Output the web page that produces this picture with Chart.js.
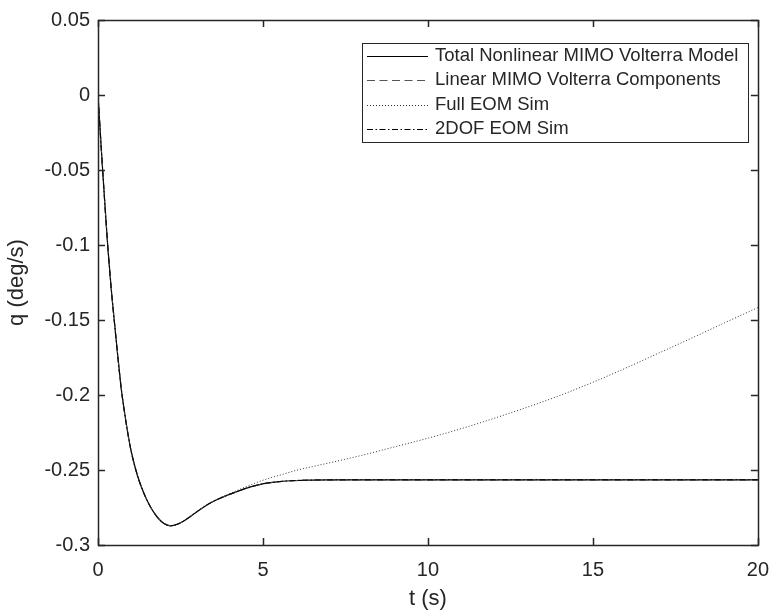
<!DOCTYPE html>
<html>
<head>
<meta charset="utf-8">
<script src="https://cdn.jsdelivr.net/npm/chart.js@4"></script>
<style>
  html, body { margin: 0; padding: 0; background: #fff; }
  #wrap { width: 782px; height: 614px; }
</style>
</head>
<body>
<div id="wrap"><canvas id="qChart"></canvas></div>
<script>
// Tempo (s) e respostas q (deg/s)
const tSeconds = [0, 0.1, 0.2, 0.3, 0.4, 0.5, 0.6, 0.7, 0.8, 0.9,
    1.0, 1.2, 1.4, 1.6, 1.8, 2.0, 2.2, 2.4, 2.6, 2.8,
    3.0, 3.3, 3.6, 3.9, 4.2, 4.5, 4.8, 5.1, 5.5, 6.0,
    6.5, 7, 8, 9, 10, 11, 12, 13, 14, 15, 16, 17, 18, 19, 20];

const qTotal = [0, -0.036, -0.070, -0.102, -0.129, -0.152, -0.174, -0.195, -0.211, -0.225,
    -0.237, -0.254, -0.266, -0.2750, -0.2815, -0.2857, -0.2872, -0.2862, -0.2840, -0.2810,
    -0.2778, -0.2733, -0.2698, -0.2670, -0.2645, -0.2621, -0.2602, -0.2588, -0.2577, -0.2570,
    -0.2567, -0.2566, -0.2566, -0.2566, -0.2566, -0.2566, -0.2566, -0.2566, -0.2566, -0.2566,
    -0.2566, -0.2566, -0.2566, -0.2566, -0.2566];

const qLinear = [0, -0.036, -0.070, -0.102, -0.129, -0.152, -0.174, -0.195, -0.211, -0.225,
    -0.237, -0.254, -0.266, -0.2750, -0.2815, -0.2857, -0.2872, -0.2862, -0.2840, -0.2810,
    -0.2778, -0.2733, -0.2698, -0.2671, -0.2646, -0.2622, -0.2603, -0.2589, -0.2578, -0.2571,
    -0.2568, -0.2567, -0.2567, -0.2567, -0.2567, -0.2567, -0.2567, -0.2567, -0.2567, -0.2567,
    -0.2567, -0.2567, -0.2567, -0.2567, -0.2567];

const qFullEom = [0, -0.036, -0.070, -0.102, -0.129, -0.152, -0.174, -0.195, -0.211, -0.225,
    -0.237, -0.254, -0.266, -0.2750, -0.2815, -0.2857, -0.2872, -0.2862, -0.2840, -0.2810,
    -0.2778, -0.2732, -0.2696, -0.2666, -0.2638, -0.2610, -0.2584, -0.2561, -0.2535, -0.2503,
    -0.2477, -0.2453, -0.2402, -0.2345, -0.2288, -0.2225, -0.2156, -0.2082, -0.2003, -0.1915,
    -0.1820, -0.1720, -0.1620, -0.1518, -0.1417];

const q2Dof = [0, -0.036, -0.070, -0.102, -0.129, -0.152, -0.174, -0.195, -0.211, -0.225,
    -0.237, -0.254, -0.266, -0.2750, -0.2815, -0.2857, -0.2872, -0.2862, -0.2840, -0.2810,
    -0.2778, -0.2733, -0.2698, -0.2670, -0.2645, -0.2621, -0.2602, -0.2588, -0.2577, -0.2570,
    -0.2567, -0.2566, -0.2565, -0.2565, -0.2565, -0.2565, -0.2565, -0.2565, -0.2565, -0.2565,
    -0.2565, -0.2565, -0.2565, -0.2565, -0.2565];

const seriesLabels = ['Total Nonlinear MIMO Volterra Model', 'Linear MIMO Volterra Components', 'Full EOM Sim', '2DOF EOM Sim'];
const xTicks = [0, 5, 10, 15, 20];
const yTicks = [0.05, 0, -0.05, -0.1, -0.15, -0.2, -0.25, -0.3];

const axisColor = '#262626';
const fontFamily = '"Liberation Sans", Arial, Helvetica, sans-serif';

function toPoints(values) {
    return tSeconds.map((t, i) => ({ x: t, y: values[i] }));
}

const lineStyles = [
    { color: '#000000', width: 1.2, dash: [] },
    { color: '#555555', width: 1.2, dash: [8, 4.5] },
    { color: '#333333', width: 1, dash: [1, 2] },
    { color: '#000000', width: 1, dash: [6, 2.5, 1.5, 2.5] }
];

// Caixa dos eixos com marcas para dentro (estilo MATLAB)
const boxPlugin = {
    id: 'matlabBox',
    afterDatasetsDraw(chart) {
        const { ctx, chartArea: a, scales } = chart;
        const len = 7;
        ctx.save();
        ctx.strokeStyle = axisColor;
        ctx.lineWidth = 1.5;
        ctx.beginPath();
        xTicks.forEach(v => {
            const px = Math.round(scales.x.getPixelForValue(v)) + 0.5;
            ctx.moveTo(px, a.bottom); ctx.lineTo(px, a.bottom - len);
            ctx.moveTo(px, a.top); ctx.lineTo(px, a.top + len);
        });
        yTicks.forEach(v => {
            const py = Math.round(scales.y.getPixelForValue(v)) + 0.5;
            ctx.moveTo(a.left, py); ctx.lineTo(a.left + len, py);
            ctx.moveTo(a.right, py); ctx.lineTo(a.right - len, py);
        });
        ctx.stroke();
        ctx.strokeRect(Math.round(a.left) + 0.5, Math.round(a.top) + 0.5,
            Math.round(a.right - a.left), Math.round(a.bottom - a.top));
        ctx.restore();
    }
};

// Legenda dentro da área do gráfico
const legendPlugin = {
    id: 'insideLegend',
    afterDraw(chart) {
        const ctx = chart.ctx;
        const box = { x: 362, y: 43, w: 386, h: 99 };
        ctx.save();
        ctx.fillStyle = '#ffffff';
        ctx.fillRect(box.x, box.y, box.w, box.h);
        ctx.strokeStyle = axisColor;
        ctx.lineWidth = 1;
        ctx.strokeRect(box.x + 0.5, box.y + 0.5, box.w, box.h);
        ctx.font = '18.5px ' + fontFamily;
        ctx.textBaseline = 'middle';
        ctx.fillStyle = axisColor;
        seriesLabels.forEach((label, i) => {
            const y = box.y + 12.5 + i * 24.5;
            const st = lineStyles[i];
            ctx.beginPath();
            ctx.strokeStyle = st.color;
            ctx.lineWidth = st.width;
            ctx.setLineDash(st.dash);
            ctx.moveTo(367, Math.round(y) + 0.5);
            ctx.lineTo(428, Math.round(y) + 0.5);
            ctx.stroke();
            ctx.setLineDash([]);
            ctx.fillText(label, 435, y);
        });
        ctx.restore();
    }
};

const datasetValues = [qTotal, qLinear, qFullEom, q2Dof];

new Chart(document.getElementById('qChart').getContext('2d'), {
    type: 'line',
    data: {
        datasets: datasetValues.map((vals, i) => ({
            label: seriesLabels[i],
            data: toPoints(vals),
            borderColor: lineStyles[i].color,
            borderWidth: lineStyles[i].width,
            borderDash: lineStyles[i].dash,
            pointRadius: 0,
            fill: false,
            cubicInterpolationMode: 'monotone',
            order: 4 - i
        }))
    },
    options: {
        responsive: true,
        maintainAspectRatio: false,
        animation: false,
        layout: { padding: { left: 0, top: 17, right: 13, bottom: 0 } },
        plugins: {
            legend: { display: false },
            tooltip: { enabled: false }
        },
        scales: {
            x: {
                type: 'linear',
                min: 0,
                max: 20,
                afterBuildTicks: s => { s.ticks = xTicks.map(v => ({ value: v })); },
                afterFit: s => { s.height = 69; },
                grid: { display: false, drawTicks: false },
                border: { display: false },
                ticks: {
                    color: axisColor,
                    font: { family: fontFamily, size: 20 },
                    padding: 13,
                    maxRotation: 0,
                    autoSkip: false,
                    callback: v => String(v)
                },
                title: {
                    display: true,
                    text: 't (s)',
                    color: axisColor,
                    font: { family: fontFamily, size: 22 },
                    padding: { top: 0, bottom: 2 }
                }
            },
            y: {
                type: 'linear',
                min: -0.3,
                max: 0.05,
                afterBuildTicks: s => { s.ticks = yTicks.map(v => ({ value: v })); },
                afterFit: s => { s.width = 98; },
                grid: { display: false, drawTicks: false },
                border: { display: false },
                ticks: {
                    color: axisColor,
                    font: { family: fontFamily, size: 20 },
                    padding: 8,
                    autoSkip: false,
                    callback: v => String(Number(v.toFixed(2)))
                },
                title: {
                    display: true,
                    text: 'q (deg/s)',
                    color: axisColor,
                    font: { family: fontFamily, size: 22 },
                    padding: { top: 4, bottom: 0 }
                }
            }
        }
    },
    plugins: [boxPlugin, legendPlugin]
});
</script>
</body>
</html>
